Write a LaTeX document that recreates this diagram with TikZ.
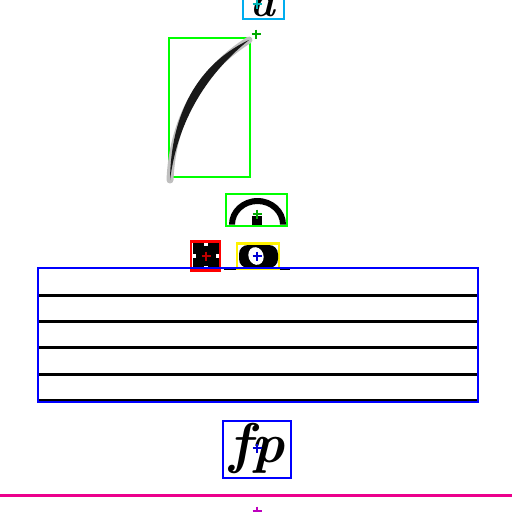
\documentclass[tikz,border=0pt]{standalone}
\definecolor{lime}{RGB}{0,255,0}
\definecolor{dgreen}{RGB}{0,170,0}
\definecolor{dcyan}{RGB}{0,180,180}
\definecolor{dred}{RGB}{190,0,0}
\definecolor{dblue}{RGB}{0,0,210}
\definecolor{dmag}{RGB}{190,0,190}
\begin{document}
\begin{tikzpicture}[x=1pt,y=-1pt,
  box/.style={line width=2.6pt, inner sep=0pt, outer sep=0pt},
  staffline/.style={line width=3pt, black},
  cross/.pic={\draw[line width=2.4pt, pic actions] (-4.5,0) -- (4.5,0) (0,-4.5) -- (0,4.5);}]
\useasboundingbox (0,0) rectangle (512,512);
\clip (0,0) rectangle (512,512);

% dynamic "a" at top
\node[box, draw=cyan, minimum width=41pt, minimum height=34pt] (abox) at (263.5,2) {};
\node[anchor=base, inner sep=0pt, font=\fontsize{42}{42}\selectfont\bfseries\itshape] (atext) at (263,16) {a};
\draw[dcyan] (257,4) pic {cross};

% slur
\node[box, draw=lime, minimum width=81pt, minimum height=139pt] (slurbox) at (209.5,107.5) {};
\coordinate (slurA) at (170,180);
\coordinate (slurB) at (249,40);
\draw[black!25, line width=7pt, line cap=round] (slurA) .. controls (173,112) and (206,67) .. (slurB);
\fill[black!90] (slurA) .. controls (171,106) and (204,61) .. (slurB)
   .. controls (209,72) and (178,118) .. (slurA) -- cycle;
\draw[dgreen] (256,34) pic {cross};

% fermata
\node[box, draw=lime, minimum width=61pt, minimum height=32pt] (fermbox) at (256.5,210) {};
\fill[black] (229,224.5) arc[start angle=180, end angle=360, x radius=28.5, y radius=26.5]
   -- (280,224.5) arc[start angle=360, end angle=180, x radius=22.5, y radius=20.5] -- cycle;
\fill[black] (252,216) rectangle (262,225);
\draw[dgreen] (257,214) pic {cross};

% ledger line
\draw[line width=1.6pt] (224,269) -- (290,269);

% red element
\node[box, draw=red, minimum width=29pt, minimum height=29pt] (redbox) at (205.5,256) {};
\fill[black] (193,243) rectangle (219,269);
\fill[white] (204,243) rectangle (208,246);
\fill[white] (204,266) rectangle (208,269);
\fill[white] (193,254) rectangle (196,258);
\fill[white] (216,254) rectangle (219,258);
\draw[dred] (206,256) pic {cross};

% whole note
\node[box, draw=yellow, minimum width=42pt, minimum height=25pt] (notebox) at (258,256) {};
\fill[black, rounded corners=9pt] (239,245) rectangle (278,268);
\fill[white, rotate around={20:(256,256)}] (256,256) ellipse[x radius=7.5, y radius=9];
\draw[dblue] (257,256) pic {cross};

% staff
\foreach \y in {295,321.5,347.5,374,400} \draw[staffline] (38,\y) -- (478,\y);
\node[box, draw=blue, minimum width=440pt, minimum height=134pt] (staff) at (258,335) {};

% fp
\node[box, draw=blue, minimum width=68pt, minimum height=57pt] (fpbox) at (257,449.5) {};
\node[anchor=base, inner sep=0pt, font=\fontsize{56}{56}\selectfont\bfseries\itshape] (fptext) at (257,462) {fp};
\draw[dblue] (257,448) pic {cross};

% bottom line
\draw[line width=3pt, magenta] (0,495.5) -- (512,495.5);
\draw[dmag] (257,511) pic {cross};
\end{tikzpicture}
\end{document}
